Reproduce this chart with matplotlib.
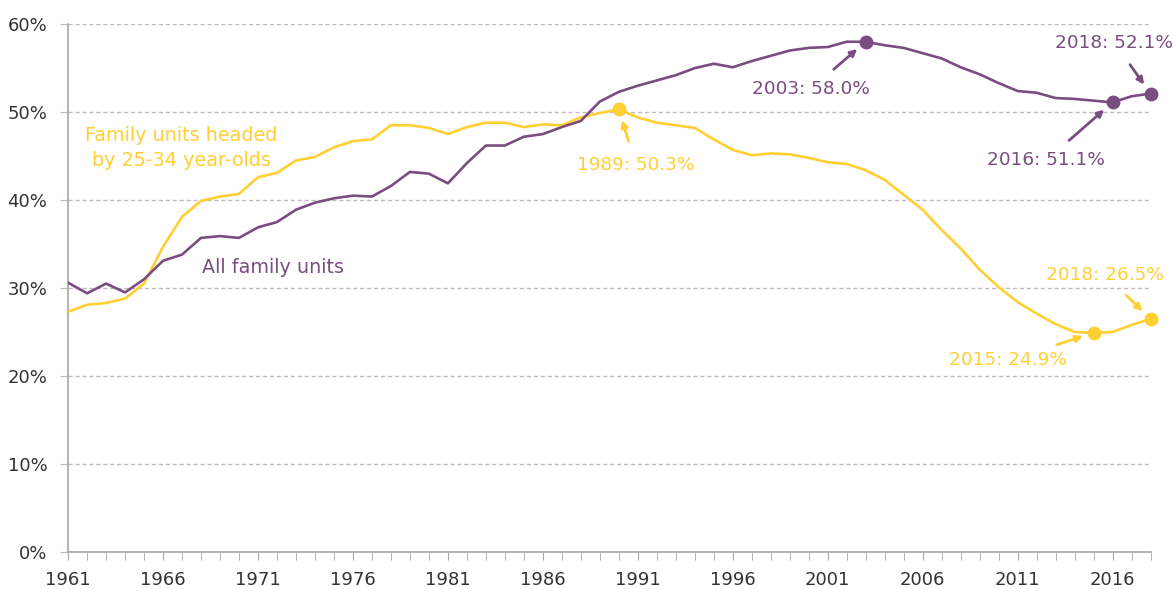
import matplotlib
matplotlib.use("Agg")
import matplotlib.pyplot as plt
from matplotlib.ticker import MultipleLocator, FuncFormatter

# ------------------ data ------------------
years = list(range(1961, 2019))

all_units = [
    30.6, 29.4, 30.5, 29.5, 31.0, 33.1, 33.8, 35.7, 35.9, 35.7,
    36.9, 37.5, 38.9, 39.7, 40.2, 40.5, 40.4, 41.6, 43.2, 43.0,
    41.9, 44.2, 46.2, 46.2, 47.2, 47.5, 48.3, 49.0, 51.2, 52.3,
    53.0, 53.6, 54.2, 55.0, 55.5, 55.1, 55.8, 56.4, 57.0, 57.3,
    57.4, 58.0, 58.0, 57.6, 57.3, 56.7, 56.1, 55.1, 54.3, 53.3,
    52.4, 52.2, 51.6, 51.5, 51.3, 51.1, 51.8, 52.1,
]

young_units = [
    27.3, 28.1, 28.3, 28.8, 30.5, 34.7, 38.1, 39.9, 40.4, 40.7,
    42.6, 43.1, 44.5, 44.9, 46.0, 46.7, 46.9, 48.5, 48.5, 48.2,
    47.5, 48.3, 48.8, 48.8, 48.3, 48.6, 48.5, 49.4, 49.9, 50.3,
    49.4, 48.8, 48.5, 48.2, 46.9, 45.7, 45.1, 45.3, 45.2, 44.8,
    44.3, 44.1, 43.4, 42.3, 40.6, 38.9, 36.6, 34.5, 32.1, 30.1,
    28.4, 27.1, 25.9, 25.0, 24.9, 25.0, 25.8, 26.5,
]

xtick_years = list(range(1961, 2019, 5))

# highlighted points: (year, label text, text x, text y)
purple_notes = [
    (2003, "2003: 58.0%", 2000.1, 52.6),
    (2016, "2016: 51.1%", 2012.5, 44.5),
    (2018, "2018: 52.1%", 2016.1, 57.9),
]
yellow_notes = [
    (1990, "1989: 50.3%", 1990.9, 44.0),
    (2015, "2015: 24.9%", 2010.5, 21.8),
    (2018, "2018: 26.5%", 2015.6, 31.5),
]

PURPLE = "#7a4d80"
YELLOW = "#ffcf33"
GREY = "#bdbdbd"
TXT = "#333333"
FS = 13.3

plt.rcParams["font.family"] = ["DejaVu Sans"]

fig = plt.figure(figsize=(11.74, 5.89), dpi=100)
ax = fig.add_axes([0.058, 0.063, 0.922, 0.896])

ax.plot(years, young_units, color=YELLOW, lw=1.9, zorder=3)
ax.plot(years, all_units, color=PURPLE, lw=1.9, zorder=4)

def note(series, notes, color):
    for yr, txt, tx, ty in notes:
        val = series[years.index(yr)]
        ax.plot(yr, val, "o", color=color, ms=9, zorder=5, clip_on=False)
        ax.annotate(txt, xy=(yr, val), xytext=(tx, ty), color=color,
                    fontsize=FS, ha="center", va="center",
                    arrowprops=dict(arrowstyle="-|>", color=color, lw=2,
                                    mutation_scale=10, shrinkA=9, shrinkB=8))

note(all_units, purple_notes, PURPLE)
note(young_units, yellow_notes, YELLOW)

ax.text(1966.95, 45.9, "Family units headed\nby 25-34 year-olds", color=YELLOW,
        fontsize=13.8, ha="center", va="center", linespacing=1.4)
ax.text(1971.8, 32.3, "All family units", color=PURPLE, fontsize=13.8,
        ha="center", va="center")

ax.set_xlim(1961, 2018)
ax.set_ylim(0, 60)
ax.set_xticks(xtick_years)
ax.xaxis.set_minor_locator(MultipleLocator(1))
ax.yaxis.set_major_locator(MultipleLocator(10))
ax.yaxis.set_major_formatter(FuncFormatter(lambda v, p: f"{v:.0f}%"))

ax.grid(axis="y", color=GREY, ls=(0, (3, 2)), lw=1)
ax.set_axisbelow(True)
for s in ["top", "right"]:
    ax.spines[s].set_visible(False)
for s in ["left", "bottom"]:
    ax.spines[s].set_color("#a6a6a6")
    ax.spines[s].set_linewidth(1.2)

ax.tick_params(axis="x", which="both", length=6, color="#a6a6a6",
               labelsize=13, labelcolor=TXT, pad=8)
ax.tick_params(axis="y", length=6, color=GREY, labelsize=13,
               labelcolor=TXT, pad=9)

fig.savefig("out.png", dpi=100)
